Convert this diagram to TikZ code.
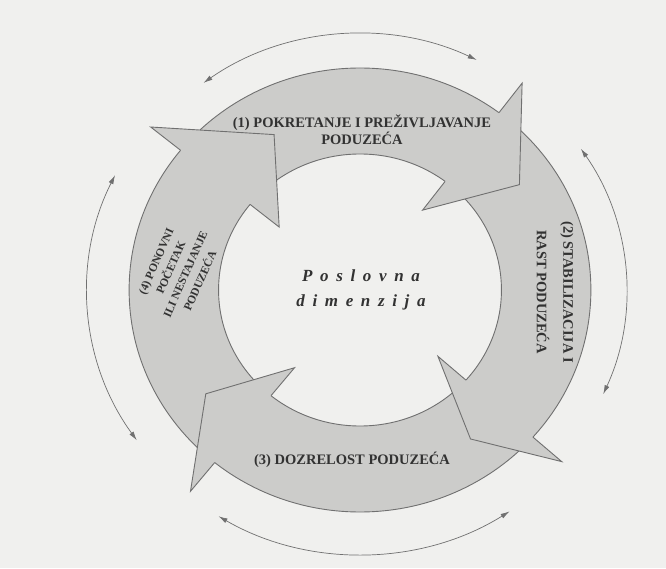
\documentclass[tikz,border=0pt]{standalone}
\usepackage{fontspec}
\setmainfont{Liberation Serif}
\usetikzlibrary{arrows.meta}
\definecolor{paper}{RGB}{240,240,238}
\definecolor{ringgray}{RGB}{204,204,202}
\definecolor{edgegray}{RGB}{112,112,112}
\definecolor{inkgray}{RGB}{50,50,50}

\begin{document}
\begin{tikzpicture}[x=1pt,y=1pt,
  ringfill/.style={fill=ringgray},
  edge/.style={draw=edgegray,line width=0.9pt},
  cycarrow/.style={draw=edgegray,line width=0.7pt,{Latex[length=9pt,width=5pt]}-{Latex[length=9pt,width=5pt]}},
  phase/.style={inner sep=0.75pt,text=inkgray,align=center,font=\fontsize{14.5}{15}\selectfont\bfseries},
  core/.style={inner sep=0.75pt,text=inkgray,align=center,font=\fontsize{17}{25}\selectfont\bfseries\itshape\addfontfeatures{LetterSpace=45}}]

\fill[paper] (0,0) rectangle (666,568);
\useasboundingbox (0,0) rectangle (666,568);

\begin{scope}[shift={(360,278)},xscale=1.04]
% Ring
\fill[ringfill,even odd rule] (0,0) circle (222) (0,0) circle (136);
\draw[edge] (0,0) circle (222);
\draw[edge] (0,0) circle (136);

% Head of arrow 1
\fill[ringfill] (53:100) -- (34.5:186) -- (53:259) -- cycle;
\draw[edge] (53:136) -- (53:100) -- (34.5:186) -- (53:259) -- (53:222);
% Head of arrow 2
\fill[ringfill] (-41.5:100) -- (-54.5:183) -- (-41.5:259) -- cycle;
\draw[edge] (-41.5:136) -- (-41.5:100) -- (-54.5:183) -- (-41.5:259) -- (-41.5:222);
% Head of arrow 3
\fill[ringfill] (231:100) -- (215:181) -- (231:259) -- cycle;
\draw[edge] (231:136) -- (231:100) -- (215:181) -- (231:259) -- (231:222);
% Head of arrow 4
\fill[ringfill] (141:100) -- (118:176) -- (141:259) -- cycle;
\draw[edge] (141:136) -- (141:100) -- (118:176) -- (141:259) -- (141:222);

% Outer double arrows
\draw[cycarrow] (64:256) arc[start angle=64,end angle=126,radius=256];
\draw[cycarrow] (154:262) arc[start angle=154,end angle=215,radius=262];
\draw[cycarrow] (239:264) arc[start angle=239,end angle=303,radius=264];
\draw[cycarrow] (-24:256) arc[start angle=-24,end angle=34,radius=254];
\end{scope}

% Text Node
\node[phase] (phase1) at (362,438) {(1) POKRETANJE I PREŽIVLJAVANJE\\PODUZEĆA};
% Text Node
\node[phase,rotate=-90] (phase2) at (555,276) {(2) STABILIZACIJA I\\[10pt]RAST PODUZEĆA};
% Text Node
\node[phase] (phase3) at (352,108) {(3) DOZRELOST PODUZEĆA};
% Text Node
\node[phase,rotate=66,font=\fontsize{11.5}{16}\selectfont\bfseries] (phase4) at (178,297) {(4) PONOVNI\\POČETAK\\ILI NESTAJANJE\\PODUZEĆA};
% Text Node
\node[core] (core) at (361,278) {Poslovna\\dimenzija};

\end{tikzpicture}
\end{document}
